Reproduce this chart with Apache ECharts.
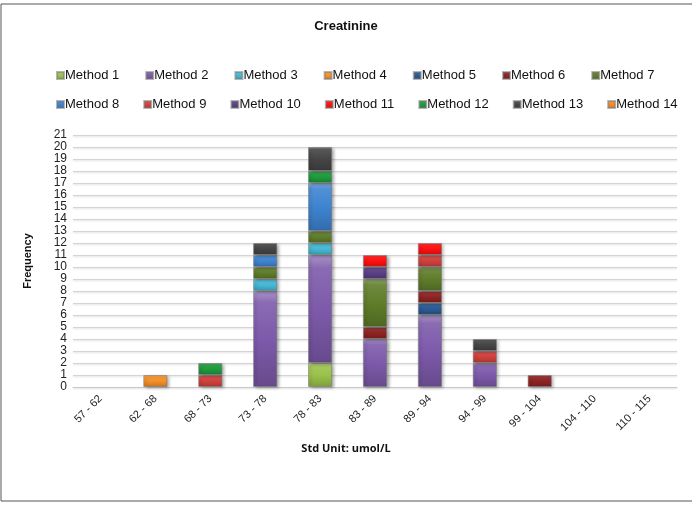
<!DOCTYPE html>
<html>
<head>
<meta charset="utf-8">
<script src="https://cdn.jsdelivr.net/npm/echarts@6/dist/echarts.min.js"></script>
<style>
  html, body { margin: 0; padding: 0; background: #fff; }
  #chart { width: 692px; height: 507px; }
</style>
</head>
<body>
<div id="chart"></div>
<script>
// Creatinine frequency by value range, stacked per method
const categories = ['57 - 62', '62 - 68', '68 - 73', '73 - 78', '78 - 83', '83 - 89', '89 - 94', '94 - 99', '99 - 104', '104 - 110', '110 - 115'];
const yTicks = [0, 21, 1];

const method1  = [0, 0, 0, 0, 2, 0, 0, 0, 0, 0, 0];
const method2  = [0, 0, 0, 8, 9, 4, 6, 2, 0, 0, 0];
const method3  = [0, 0, 0, 1, 1, 0, 0, 0, 0, 0, 0];
const method4  = [0, 1, 0, 0, 0, 0, 0, 0, 0, 0, 0];
const method5  = [0, 0, 0, 0, 0, 0, 1, 0, 0, 0, 0];
const method6  = [0, 0, 0, 0, 0, 1, 1, 0, 1, 0, 0];
const method7  = [0, 0, 0, 1, 1, 4, 2, 0, 0, 0, 0];
const method8  = [0, 0, 0, 1, 4, 0, 0, 0, 0, 0, 0];
const method9  = [0, 0, 1, 0, 0, 0, 1, 1, 0, 0, 0];
const method10 = [0, 0, 0, 0, 0, 1, 0, 0, 0, 0, 0];
const method11 = [0, 0, 0, 0, 0, 1, 1, 0, 0, 0, 0];
const method12 = [0, 0, 1, 0, 1, 0, 0, 0, 0, 0, 0];
const method13 = [0, 0, 0, 1, 2, 0, 0, 1, 0, 0, 0];
const method14 = [0, 0, 0, 0, 0, 0, 0, 0, 0, 0, 0];

const seriesNames = ['Method 1', 'Method 2', 'Method 3', 'Method 4', 'Method 5', 'Method 6', 'Method 7',
                     'Method 8', 'Method 9', 'Method 10', 'Method 11', 'Method 12', 'Method 13', 'Method 14'];
const seriesValues = [method1, method2, method3, method4, method5, method6, method7,
                      method8, method9, method10, method11, method12, method13, method14];
const seriesColors = ['#9bc24b', '#7d5aab', '#45b9d4', '#f5902a', '#2a5a94', '#8f2323', '#5f7d2a',
                      '#3e84d0', '#d0413c', '#5b3f86', '#ff1010', '#1e9b3c', '#454545', '#f58c2a'];

function shade(hex, amt) {
  const n = parseInt(hex.slice(1), 16);
  let r = (n >> 16) & 255, g = (n >> 8) & 255, b = n & 255;
  const f = (c) => Math.max(0, Math.min(255, Math.round(amt >= 0 ? c + (255 - c) * amt : c * (1 + amt))));
  return 'rgb(' + f(r) + ',' + f(g) + ',' + f(b) + ')';
}

function bevel(hex) {
  return new echarts.graphic.LinearGradient(0, 0, 0, 1, [
    { offset: 0, color: shade(hex, 0.35) },
    { offset: 0.12, color: shade(hex, 0.1) },
    { offset: 0.5, color: hex },
    { offset: 1, color: shade(hex, -0.18) }
  ]);
}

const series = seriesNames.map((name, i) => ({
  name: name,
  type: 'bar',
  stack: 'total',
  barWidth: '44%',
  data: seriesValues[i].map(v => (v === 0 ? null : v)),
  itemStyle: {
    color: bevel(seriesColors[i]),
    borderColor: 'rgba(120,120,120,0.55)',
    borderWidth: 1,
    shadowColor: 'rgba(0,0,0,0.35)',
    shadowBlur: 3,
    shadowOffsetX: 2,
    shadowOffsetY: 1
  }
}));

const chart = echarts.init(document.getElementById('chart'), null, { renderer: 'canvas' });

const legendCommon = {
  orient: 'horizontal',
  left: 51,
  width: 660,
  itemWidth: 7,
  itemHeight: 7,
  itemGap: 26,
  icon: 'rect',
  textStyle: { fontFamily: 'Liberation Sans, Arial, sans-serif', fontSize: 13, color: '#111', padding: [0, 0, 0, -4] }
};

chart.setOption({
  animation: false,
  backgroundColor: '#fff',
  title: [
    {
      text: 'Creatinine',
      left: 'center',
      top: 15,
      textStyle: { fontFamily: 'Liberation Sans, Arial, sans-serif', fontSize: 13, fontWeight: 'bold', color: '#111' }
    },
    {
      text: 'Std Unit: umol/L',
      left: 'center',
      top: 438,
      textStyle: { fontFamily: 'Open Sans, Liberation Sans, sans-serif', fontSize: 11, fontWeight: 'bold', color: '#111' }
    }
  ],
  legend: [
    Object.assign({}, legendCommon, { top: 64, data: seriesNames.slice(0, 7) }),
    Object.assign({}, legendCommon, { top: 93, itemGap: 24, data: seriesNames.slice(7) })
  ],
  grid: { left: 73, right: 15, top: 135, bottom: 120 },
  xAxis: {
    type: 'category',
    data: categories,
    axisLine: { lineStyle: { color: '#c8c8c8', width: 1 } },
    axisTick: { show: false },
    axisLabel: {
      rotate: 45,
      interval: 0,
      margin: 10,
      fontFamily: 'Liberation Sans, Arial, sans-serif',
      fontSize: 11,
      color: '#222'
    }
  },
  yAxis: {
    type: 'value',
    min: yTicks[0],
    max: yTicks[1],
    interval: yTicks[2],
    name: 'Frequency',
    nameLocation: 'middle',
    nameRotate: 90,
    nameGap: 40,
    nameTextStyle: { fontFamily: 'Liberation Sans, Arial, sans-serif', fontSize: 11, fontWeight: 'bold', color: '#111' },
    axisLine: { show: false },
    axisTick: { show: false },
    axisLabel: { fontFamily: 'Liberation Sans, Arial, sans-serif', fontSize: 12, color: '#222', margin: 6, lineHeight: 12 },
    splitLine: { lineStyle: { color: '#d4d4d4', width: 1, shadowColor: 'rgba(0,0,0,0.15)', shadowBlur: 2, shadowOffsetY: 1 } }
  },
  graphic: [
    {
      type: 'rect',
      silent: true,
      shape: { x: 1, y: 4, width: 700, height: 497 },
      style: { fill: 'none', stroke: '#555', lineWidth: 1 }
    }
  ],
  series: series
});
</script>
</body>
</html>
